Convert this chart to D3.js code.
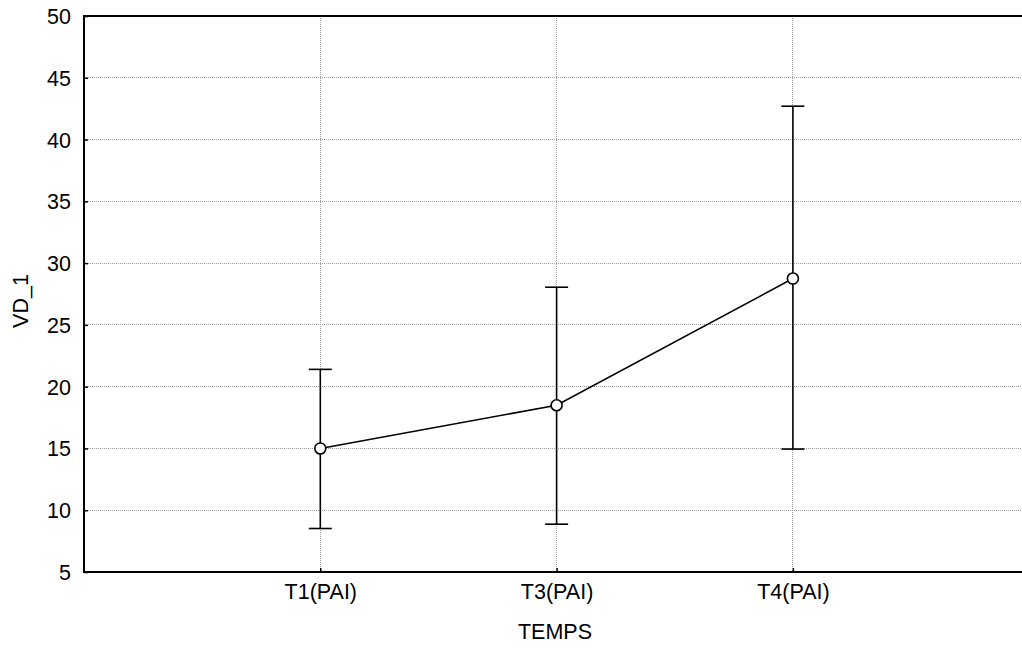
<!DOCTYPE html>
<html><head><meta charset="utf-8">
<script src="https://cdn.jsdelivr.net/npm/d3@7"></script>
<style>
html,body{margin:0;padding:0;background:#fff;overflow:hidden;}
text{font-family:"Liberation Sans",Arial,sans-serif;fill:#000;}
</style></head>
<body>
<svg id="chart" width="1022" height="648"></svg>
<script>
const categories = ["T1(PAI)", "T3(PAI)", "T4(PAI)"];
const means = [15.0, 18.5, 28.75];
const upper = [21.4, 28.05, 42.7];
const lower = [8.52, 8.87, 14.95];
const yTicks = [5, 10, 15, 20, 25, 30, 35, 40, 45, 50];
const xTitle = "TEMPS";
const yTitle = "VD_1";

(function () {
const svg = d3.select("#chart");
const mLeft = 84, mTop = 16, mBottom = 572;
const step = 236.3;
const fs = "21.5px";
const x = d3.scaleLinear().domain([0, 4]).range([mLeft, mLeft + 4 * step]);
const y = d3.scaleLinear().domain([5, 50]).range([mBottom, mTop]);
const W = 1030;

// grid
const grid = svg.append("g");
grid.selectAll("line.h").data(yTicks.filter(t => t > 5 && t < 50)).enter().append("line")
  .attr("x1", mLeft).attr("x2", W).attr("y1", d => y(d)).attr("y2", d => y(d))
  .attr("stroke", "#a0a0a0").attr("stroke-width", 1).attr("stroke-dasharray", "1,1")
  .attr("shape-rendering", "crispEdges");
grid.selectAll("line.v").data(categories).enter().append("line")
  .attr("x1", (d, i) => x(i + 1)).attr("x2", (d, i) => x(i + 1))
  .attr("y1", mTop).attr("y2", mBottom)
  .attr("stroke", "#a0a0a0").attr("stroke-width", 1).attr("stroke-dasharray", "1,1")
  .attr("shape-rendering", "crispEdges");

// axes
const yAxis = d3.axisLeft(y).tickValues(yTicks).tickSize(-4).tickPadding(13).tickFormat(d3.format("d"));
const gy = svg.append("g").attr("transform", `translate(${mLeft},0)`).call(yAxis);
gy.select(".domain").remove();
gy.selectAll("text").style("font-size", fs).attr("dy", "0.35em");
gy.selectAll("line").attr("stroke", "#000").attr("stroke-width", 1.5);

const xAxis = d3.axisBottom(x).tickValues([1, 2, 3]).tickSize(-4).tickPadding(14)
  .tickFormat(d => categories[d - 1]);
const gx = svg.append("g").attr("transform", `translate(0,${mBottom})`).call(xAxis);
gx.select(".domain").remove();
gx.selectAll("text").style("font-size", fs).attr("y", 27).attr("dy", "0");
gx.selectAll("line").attr("stroke", "#000").attr("stroke-width", 1.5);

// frame
svg.append("path")
  .attr("d", `M${W},${mTop}H${mLeft}V${mBottom}H${W}`)
  .attr("fill", "none").attr("stroke", "#000").attr("stroke-width", 2);

// whiskers
const cap = 11.5;
const wg = svg.append("g").attr("stroke", "#000").attr("stroke-width", 1.6).attr("fill", "none");
categories.forEach((c, i) => {
  const cx = x(i + 1);
  wg.append("line").attr("x1", cx).attr("x2", cx).attr("y1", y(upper[i])).attr("y2", y(lower[i]));
  wg.append("line").attr("x1", cx - cap).attr("x2", cx + cap).attr("y1", y(upper[i])).attr("y2", y(upper[i]));
  wg.append("line").attr("x1", cx - cap).attr("x2", cx + cap).attr("y1", y(lower[i])).attr("y2", y(lower[i]));
});

// mean line
const line = d3.line().x((d, i) => x(i + 1)).y(d => y(d));
svg.append("path").datum(means).attr("d", line)
  .attr("fill", "none").attr("stroke", "#000").attr("stroke-width", 1.6);

svg.selectAll("circle.m").data(means).enter().append("circle")
  .attr("cx", (d, i) => x(i + 1)).attr("cy", d => y(d)).attr("r", 5.5)
  .attr("fill", "#fff").attr("stroke", "#000").attr("stroke-width", 1.6);

// titles
svg.append("text").attr("x", 555).attr("y", 639).attr("text-anchor", "middle")
  .style("font-size", fs).text(xTitle);
svg.append("text").attr("transform", "translate(28,301) rotate(-90)").attr("text-anchor", "middle")
  .style("font-size", fs).text(yTitle);
})();
</script>
</body></html>
